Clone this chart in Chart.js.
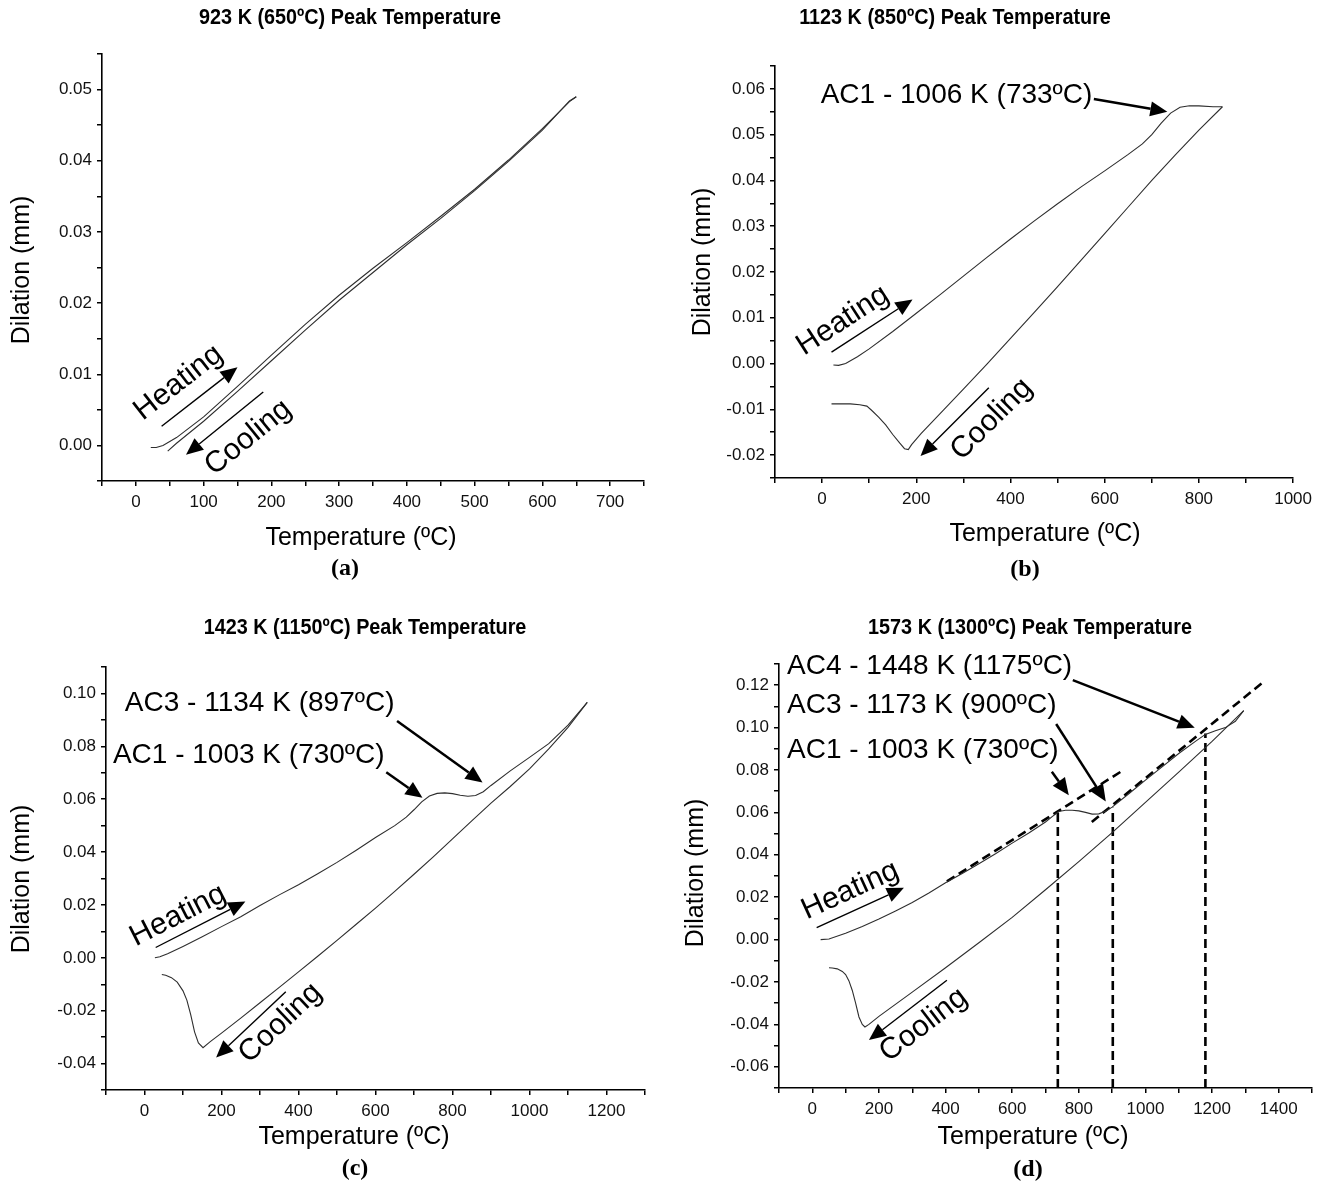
<!DOCTYPE html>
<html>
<head>
<meta charset="utf-8">
<script src="https://cdn.jsdelivr.net/npm/chart.js@4.4.1/dist/chart.umd.min.js"></script>
<style>
  body { margin: 0; background: #fff; }
  #page { position: relative; width: 1318px; height: 1186px; overflow: hidden; }
  canvas { position: absolute; }
</style>
</head>
<body>
<div id="page">
  <canvas id="pa" width="659" height="593" style="left:0;top:0"></canvas>
  <canvas id="pb" width="659" height="593" style="left:659px;top:0"></canvas>
  <canvas id="pc" width="659" height="593" style="left:0;top:593px"></canvas>
  <canvas id="pd" width="659" height="593" style="left:659px;top:593px"></canvas>
</div>
<script>
// values (temperature in ºC, dilation in mm)

// (a) 650ºC peak
const heatTempA = [22, 30, 40, 60, 100, 150, 200, 250, 300, 350, 400, 450, 500, 550, 600, 640, 650];
const heatDilA  = [-0.0003, -0.0003, 0.0000, 0.0011, 0.0040, 0.0083, 0.0127, 0.0170, 0.0211, 0.0249, 0.0285, 0.0322, 0.0360, 0.0401, 0.0445, 0.0483, 0.0490];
const coolTempA = [650, 640, 600, 550, 500, 450, 400, 350, 300, 250, 200, 150, 100, 60, 47];
const coolDilA  = [0.0490, 0.0484, 0.0443, 0.0399, 0.0358, 0.0319, 0.0282, 0.0243, 0.0204, 0.0162, 0.0119, 0.0076, 0.0034, 0.0003, -0.0008];

// (b) 850ºC peak
const heatTempB = [24, 35, 50, 75, 100, 150, 200, 250, 300, 350, 400, 450, 500, 550, 600, 650, 680, 700, 720, 740, 760, 780, 800, 830, 850];
const heatDilB  = [-0.0003, -0.0004, 0.0000, 0.0015, 0.0032, 0.0070, 0.0110, 0.0150, 0.0191, 0.0232, 0.0272, 0.0311, 0.0349, 0.0386, 0.0421, 0.0457, 0.0480, 0.0500, 0.0525, 0.0547, 0.0560, 0.0563, 0.0563, 0.0561, 0.0561];
const coolTempB = [850, 800, 750, 700, 650, 600, 550, 500, 450, 400, 350, 300, 250, 210, 190, 183, 175, 165, 150, 135, 120, 105, 95, 80, 60, 40, 20];
const coolDilB  = [0.0561, 0.0510, 0.0456, 0.0400, 0.0342, 0.0284, 0.0226, 0.0168, 0.0111, 0.0055, -0.0001, -0.0056, -0.0110, -0.0153, -0.0177, -0.0188, -0.0186, -0.0174, -0.0155, -0.0134, -0.0117, -0.0102, -0.0093, -0.0090, -0.0088, -0.0088, -0.0088];

// (c) 1150ºC peak
const heatTempC = [27, 40, 60, 100, 150, 200, 250, 300, 350, 400, 450, 500, 550, 600, 650, 680, 700, 720, 740, 760, 780, 800, 820, 840, 860, 880, 900, 950, 1000, 1050, 1100, 1150];
const heatDilC  = [0.0000, 0.0004, 0.0015, 0.0043, 0.0080, 0.0118, 0.0155, 0.0198, 0.0238, 0.0276, 0.0318, 0.0361, 0.0407, 0.0455, 0.0500, 0.0532, 0.0560, 0.0590, 0.0612, 0.0622, 0.0624, 0.0621, 0.0615, 0.0611, 0.0614, 0.0628, 0.0652, 0.0707, 0.0758, 0.0810, 0.0880, 0.0966];
const coolTempC = [1150, 1100, 1050, 1000, 950, 900, 850, 800, 750, 700, 650, 600, 550, 500, 450, 400, 350, 300, 250, 200, 170, 152, 140, 130, 120, 110, 100, 85, 70, 55, 45];
const coolDilC  = [0.0966, 0.0872, 0.0790, 0.0715, 0.0648, 0.0585, 0.0518, 0.0450, 0.0382, 0.0316, 0.0251, 0.0188, 0.0127, 0.0066, 0.0006, -0.0053, -0.0112, -0.0170, -0.0228, -0.0285, -0.0318, -0.0340, -0.0322, -0.0280, -0.0215, -0.0160, -0.0125, -0.0092, -0.0075, -0.0066, -0.0063];

// (d) 1300ºC peak
const heatTempD = [25, 50, 100, 150, 200, 250, 300, 350, 400, 450, 500, 550, 600, 650, 700, 720, 740, 760, 780, 800, 820, 840, 860, 880, 900, 950, 1000, 1050, 1100, 1150, 1180, 1210, 1240, 1270, 1295];
const heatDilD  = [0.0000, 0.0003, 0.0030, 0.0062, 0.0097, 0.0135, 0.0175, 0.0220, 0.0268, 0.0312, 0.0358, 0.0405, 0.0455, 0.0503, 0.0555, 0.0580, 0.0604, 0.0610, 0.0610, 0.0607, 0.0600, 0.0592, 0.0593, 0.0605, 0.0625, 0.0688, 0.0752, 0.0815, 0.0878, 0.0935, 0.0968, 0.0985, 0.1000, 0.1030, 0.1080];
const coolTempD = [1295, 1200, 1100, 1000, 900, 800, 700, 600, 500, 400, 300, 200, 170, 158, 150, 140, 130, 120, 110, 100, 90, 75, 60, 50];
const coolDilD  = [0.1080, 0.0935, 0.0790, 0.0647, 0.0505, 0.0368, 0.0235, 0.0105, -0.0015, -0.0133, -0.0248, -0.0362, -0.0400, -0.0412, -0.0400, -0.0365, -0.0300, -0.0240, -0.0195, -0.0165, -0.0150, -0.0138, -0.0134, -0.0133];
// construction lines of (d)
const tan1Temp = [404, 927];
const tan1Dil  = [0.0275, 0.0793];
const tan2Temp = [839, 1356];
const tan2Dil  = [0.0555, 0.1218];
const ac1Temp = [737, 737];
const ac1Dil  = [-0.07, 0.0604];
const ac3Temp = [902, 902];
const ac3Dil  = [-0.07, 0.0622];
const ac4Temp = [1180, 1180];
const ac4Dil  = [-0.07, 0.0972];

// axis ticks
function tickList(min, max, step) {
  const out = [];
  const n = Math.round((max - min) / step);
  for (let i = 0; i <= n; i++) out.push(Math.round((min + i * step) * 1e6) / 1e6);
  return out;
}
const xTicksA = tickList(-50, 750, 50);
const yTicksA = tickList(-0.005, 0.055, 0.005);
const xTicksB = tickList(-100, 1000, 100);
const yTicksB = tickList(-0.025, 0.065, 0.005);
const xTicksC = tickList(-100, 1300, 100);
const yTicksC = tickList(-0.05, 0.11, 0.01);
const xTicksD = tickList(-100, 1500, 100);
const yTicksD = tickList(-0.07, 0.13, 0.01);

const titles = ['923 K (650ºC) Peak Temperature', '1123 K (850ºC) Peak Temperature',
  '1423 K (1150ºC) Peak Temperature', '1573 K (1300ºC) Peak Temperature'];
const subLabels = ['(a)', '(b)', '(c)', '(d)'];
const xTitle = 'Temperature (ºC)';
const yTitle = 'Dilation (mm)';

// arrows and their captions, in data units
const notesA = [
  { text: 'Heating', at: [63, 0.0088], from: [38, 0.0027], to: [150, 0.0110], along: true },
  { text: 'Cooling', at: [166, 0.0011], from: [188, 0.0075], to: [74, -0.0013], along: true }
];
const notesB = [
  { text: 'AC1 - 1006 K (733ºC)', at: [-3, 0.0587], from: [577, 0.0578], to: [733, 0.0550] },
  { text: 'Heating', at: [44, 0.0094], from: [20, 0.0025], to: [192, 0.0140], along: true },
  { text: 'Cooling', at: [360, -0.0122], from: [354, -0.0053], to: [209, -0.0202], along: true }
];
const notesC = [
  { text: 'AC3 - 1134 K (897ºC)', at: [-51, 0.0961], from: [656, 0.0896], to: [878, 0.0663] },
  { text: 'AC1 - 1003 K (730ºC)', at: [-82, 0.0765], from: [628, 0.0702], to: [722, 0.0605] },
  { text: 'Heating', at: [87, 0.0160], from: [29, 0.0039], to: [262, 0.0213], along: true },
  { text: 'Cooling', at: [353, -0.0247], from: [367, -0.0128], to: [186, -0.0377], along: true }
];
const notesD = [
  { text: 'AC4 - 1448 K (1175ºC)', at: [-76, 0.1287], from: [782, 0.1224], to: [1148, 0.0999] },
  { text: 'AC3 - 1173 K (900ºC)', at: [-76, 0.1107], from: [732, 0.1017], to: [881, 0.0652] },
  { text: 'AC1 - 1003 K (730ºC)', at: [-76, 0.0891], from: [719, 0.0792], to: [770, 0.0681] },
  { text: 'Heating', at: [114, 0.0232], from: [13, 0.0056], to: [275, 0.0244], along: true },
  { text: 'Cooling', at: [334, -0.0403], from: [404, -0.0192], to: [170, -0.0474], along: true }
];

const SANS = '"Liberation Sans", Arial, sans-serif';
const SERIF = '"Liberation Serif", "Times New Roman", serif';
const W = 659, H = 593;

function line(t, d, dashed) {
  return {
    data: t.map((v, i) => ({ x: v, y: d[i] })),
    showLine: true,
    pointRadius: 0,
    borderColor: dashed ? '#000' : '#2e2e2e',
    borderWidth: dashed ? 2.6 : 1.1,
    borderDash: dashed ? [9, 5] : [],
    tension: 0
  };
}

function drawArrow(ctx, x1, y1, x2, y2, lw) {
  const a = Math.atan2(y2 - y1, x2 - x1);
  const len = 17, half = 7.5;
  const bx = x2 - len * Math.cos(a), by = y2 - len * Math.sin(a);
  ctx.lineWidth = lw;
  ctx.beginPath();
  ctx.moveTo(x1, y1);
  ctx.lineTo(bx, by);
  ctx.stroke();
  ctx.beginPath();
  ctx.moveTo(x2, y2);
  ctx.lineTo(bx + half * Math.sin(a), by - half * Math.cos(a));
  ctx.lineTo(bx - half * Math.sin(a), by + half * Math.cos(a));
  ctx.closePath();
  ctx.fill();
}

function notesPlugin(p) {
  return {
    id: 'notes',
    afterDraw(chart) {
      const ctx = chart.ctx;
      const sx = chart.scales.x, sy = chart.scales.y;
      ctx.save();
      ctx.fillStyle = '#000';
      ctx.strokeStyle = '#000';
      ctx.textBaseline = 'middle';
      ctx.textAlign = 'center';

      // panel title, a bit narrow like the original
      ctx.save();
      ctx.translate(p.titlePos[0], p.titlePos[1]);
      ctx.scale(0.9, 1);
      ctx.font = 'bold 22px ' + SANS;
      ctx.fillText(p.title, 0, 0);
      ctx.restore();

      ctx.font = 'bold 24px ' + SERIF;
      ctx.fillText(p.sub, p.subPos[0], p.subPos[1]);

      ctx.font = '25px ' + SANS;
      ctx.fillText(xTitle, p.xTitlePos[0], p.xTitlePos[1]);
      ctx.save();
      ctx.translate(p.yTitlePos[0], p.yTitlePos[1]);
      ctx.rotate(-Math.PI / 2);
      ctx.fillText(yTitle, 0, 0);
      ctx.restore();

      p.notes.forEach(n => {
        const x1 = sx.getPixelForValue(n.from[0]), y1 = sy.getPixelForValue(n.from[1]);
        const x2 = sx.getPixelForValue(n.to[0]), y2 = sy.getPixelForValue(n.to[1]);
        drawArrow(ctx, x1, y1, x2, y2, n.along ? 1.4 : 2.5);
        const tx = sx.getPixelForValue(n.at[0]), ty = sy.getPixelForValue(n.at[1]);
        if (n.along) {
          let a = Math.atan2(y2 - y1, x2 - x1);
          if (x2 < x1) a = Math.atan2(y1 - y2, x1 - x2);
          ctx.save();
          ctx.translate(tx, ty);
          ctx.rotate(a);
          ctx.textAlign = 'center';
          ctx.font = '30px ' + SANS;
          ctx.fillText(n.text, 0, 0);
          ctx.restore();
        } else {
          ctx.textAlign = 'left';
          ctx.font = '28px ' + SANS;
          ctx.fillText(n.text, tx, ty);
        }
      });
      ctx.restore();
    }
  };
}

function axis(p, which) {
  const isX = which === 'x';
  const ticks = isX ? p.xTicks : p.yTicks;
  const every = isX ? p.xEvery : p.yEvery;
  return {
    type: 'linear',
    min: ticks[0],
    max: ticks[ticks.length - 1],
    afterBuildTicks: s => { s.ticks = ticks.map(v => ({ value: v })); },
    afterFit: s => {
      if (isX) s.height = H - p.area.bottom;
      else s.width = p.area.left;
    },
    ticks: {
      autoSkip: false,
      maxRotation: 0,
      color: '#111',
      padding: isX ? 6 : 5,
      font: { family: SANS, size: 17 },
      callback: v => {
        const k = v / every;
        if (Math.abs(k - Math.round(k)) > 1e-6) return '';
        return isX ? String(Math.round(v)) : v.toFixed(2);
      }
    },
    grid: { display: true, drawOnChartArea: false, drawTicks: true, tickLength: 5, color: '#000', lineWidth: 1.5 },
    border: { display: true, color: '#000', width: 1.6 },
    title: { display: false }
  };
}

function makePanel(p) {
  return new Chart(document.getElementById(p.id), {
    type: 'scatter',
    data: { datasets: p.series },
    options: {
      responsive: false,
      animation: false,
      devicePixelRatio: 1,
      layout: { autoPadding: false, padding: { left: 0, top: p.area.top, right: W - p.area.right, bottom: 0 } },
      plugins: { legend: { display: false }, tooltip: { enabled: false }, title: { display: false } },
      scales: { x: axis(p, 'x'), y: axis(p, 'y') }
    },
    plugins: [notesPlugin(p)]
  });
}

makePanel({
  id: 'pa', title: titles[0], sub: subLabels[0], titlePos: [350, 18], subPos: [345, 569],
  xTitlePos: [361, 538], yTitlePos: [22, 270],
  area: { left: 102, top: 54, right: 644, bottom: 481 },
  xTicks: xTicksA, xEvery: 100, yTicks: yTicksA, yEvery: 0.01,
  series: [line(heatTempA, heatDilA), line(coolTempA, coolDilA)], notes: notesA
});
makePanel({
  id: 'pb', title: titles[1], sub: subLabels[1], titlePos: [296, 18], subPos: [366, 570],
  xTitlePos: [386, 534], yTitlePos: [44, 262],
  area: { left: 116, top: 66, right: 639, bottom: 478 },
  xTicks: xTicksB, xEvery: 200, yTicks: yTicksB, yEvery: 0.01,
  series: [line(heatTempB, heatDilB), line(coolTempB, coolDilB)], notes: notesB
});
makePanel({
  id: 'pc', title: titles[2], sub: subLabels[2], titlePos: [365, 35], subPos: [355, 576],
  xTitlePos: [354, 544], yTitlePos: [22, 286],
  area: { left: 106, top: 74, right: 645, bottom: 497 },
  xTicks: xTicksC, xEvery: 200, yTicks: yTicksC, yEvery: 0.02,
  series: [line(heatTempC, heatDilC), line(coolTempC, coolDilC)], notes: notesC
});
makePanel({
  id: 'pd', title: titles[3], sub: subLabels[3], titlePos: [371, 35], subPos: [369, 577],
  xTitlePos: [374, 544], yTitlePos: [37, 280],
  area: { left: 120, top: 71, right: 658, bottom: 495 },
  xTicks: xTicksD, xEvery: 200, yTicks: yTicksD, yEvery: 0.02,
  series: [
    line(heatTempD, heatDilD), line(coolTempD, coolDilD),
    line(tan1Temp, tan1Dil, true), line(tan2Temp, tan2Dil, true),
    line(ac1Temp, ac1Dil, true), line(ac3Temp, ac3Dil, true), line(ac4Temp, ac4Dil, true)
  ],
  notes: notesD
});
</script>
</body>
</html>
